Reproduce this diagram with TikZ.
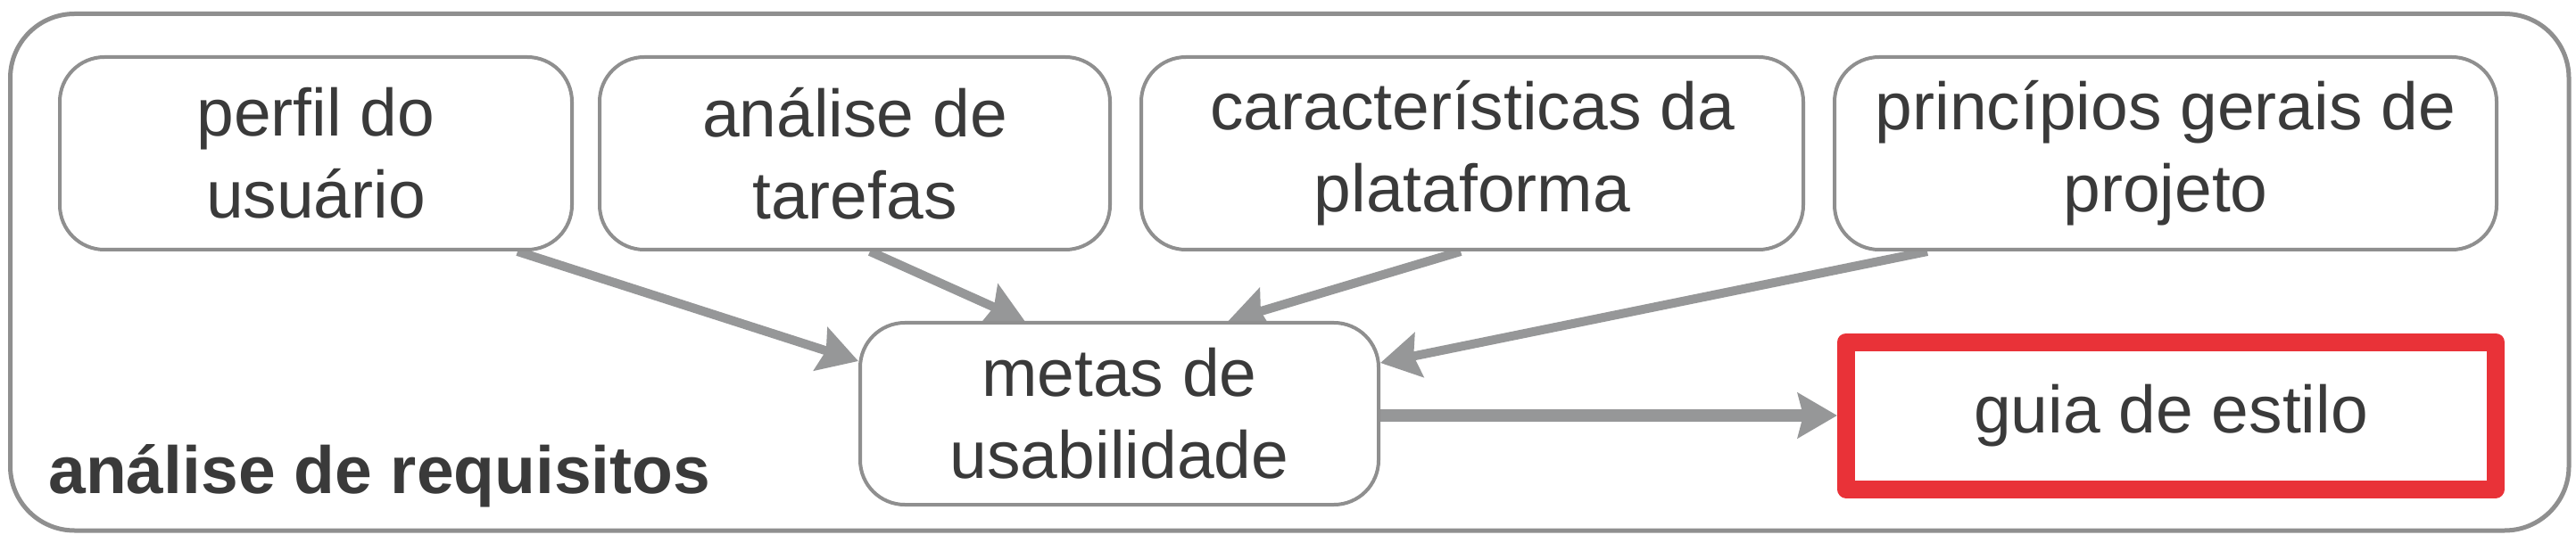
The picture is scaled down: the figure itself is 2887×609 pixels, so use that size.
\documentclass[tikz,border=0pt]{standalone}
\usepackage{fontspec}
\setmainfont{Liberation Sans}
\usetikzlibrary{arrows.meta,backgrounds,calc}
\definecolor{boxgray}{HTML}{8F8F8F}
\definecolor{arrowgray}{HTML}{969798}
\definecolor{guiared}{HTML}{E93238}
\definecolor{txtgray}{HTML}{3A3A3A}
\begin{document}
\begin{tikzpicture}[x=0.5pt,y=-0.5pt,
  every node/.style={font=\fontsize{37.5}{46}\selectfont, text=txtgray},
  inbox/.style={draw=boxgray, line width=2pt, rounded corners=25pt, fill=white, align=center, inner sep=0pt},
  topbox/.style={inbox, minimum height=108pt},
  conn/.style={draw=arrowgray, line width=5pt, -{Stealth[length=22pt,width=25pt,inset=3pt]}},
]
\useasboundingbox (0,0) rectangle (2887,609);
% top row
\node[topbox, minimum width=287pt] (b1) at (354,172) {perfil do\\usuário};
\node[topbox, minimum width=286pt] (b2) at (958,172) {análise de\\tarefas};
\node[topbox, minimum width=371pt] (b3) at (1650,172) {características da\\plataforma};
\node[topbox, minimum width=371pt] (b4) at (2427,172) {princípios gerais de\\projeto};
% middle
\node[inbox, minimum width=290.5pt, minimum height=102pt] (m) at (1254.5,464) {metas de\\usabilidade};
\node[draw=guiared, line width=10pt, line join=round, fill=white, inner sep=0pt,
      minimum width=364pt, minimum height=82.5pt] (g) at (2433,466) {guia de estilo};
\node[anchor=base west, inner sep=0pt, font=\bfseries\fontsize{37.5}{46}\selectfont] (lbl) at (54,553) {análise de requisitos};
\begin{pgfonlayer}{background}
\fill[white] (0,0) rectangle (2887,609);
\node[draw=boxgray, line width=2.5pt, rounded corners=36pt, inner sep=0pt,
      minimum width=1433.75pt, minimum height=289.75pt] (frame) at (1445.25,305.25) {};
\draw[conn] ([xshift=113pt]b1.south) -- ([yshift=29.5pt]m.west);
\draw[conn] ([xshift=8.5pt]b2.south) -- ([xshift=-53pt]m.north);
\draw[conn] ([xshift=-6.5pt]b3.south) -- ([xshift=61pt]m.north);
\draw[conn] ([xshift=-133.5pt]b4.south) -- ([yshift=28.5pt]m.east);
\draw[conn, line width=7pt] (m.east |- g.west) -- (g.west);
\end{pgfonlayer}
\end{tikzpicture}
\end{document}
